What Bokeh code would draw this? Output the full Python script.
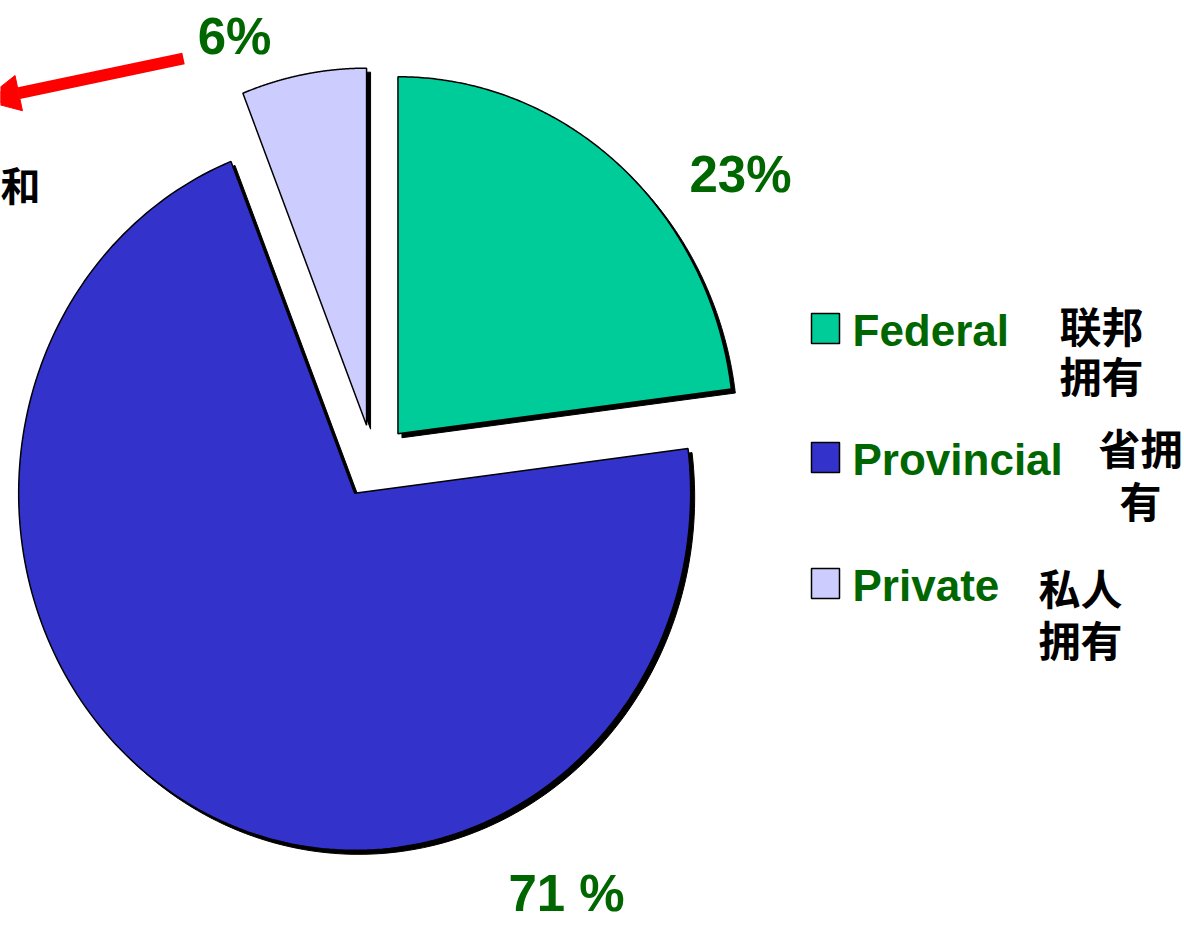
import numpy as np
from bokeh.plotting import figure
from bokeh.models import Range1d, Arrow, NormalHead
from bokeh.core.properties import value
from bokeh.embed import file_html
from bokeh.resources import INLINE

# ---------------- data ----------------
categories = ["Federal", "Provincial", "Private"]
shares = [23, 71, 6]
pct_labels = ["23%", "71 %", "6%"]
cn_line1 = ["联邦", "省拥", "私人"]
cn_line2 = ["拥有", "有", "拥有"]
colors = ["#00CC99", "#3333CC", "#CCCCFF"]

# ---------------- layout ----------------
W, H = 1184, 925
CX, CY = 373, 461          # pie centre (page pixels)
RX, RY = 336, 357          # pie radii
EXPLODE = 37
SHADOW = 4
label_pos = [(740, 174), (566, 893), (234, 36)]     # centres of % labels
legend_y = [328, 457, 583]
cn_x = [1101, 1140, 1080]
cn_y1 = [324, 446, 586]
cn_y2 = [374, 499, 638]

GREEN = "#006600"
SANS = "Liberation Sans"
CJK = "Noto Sans CJK SC"

p = figure(width=W, height=H, x_range=Range1d(0, W), y_range=Range1d(H, 0),
           output_backend="svg", toolbar_location=None, min_border=0,
           x_axis_type=None, y_axis_type=None)
p.grid.visible = False
p.outline_line_color = None
p.background_fill_color = "white"
p.border_fill_color = "white"

# ---------------- pie slices ----------------
total = float(sum(shares))
cum = np.concatenate([[0.0], np.cumsum(shares)]) / total * 2 * np.pi
xs, ys, sxs, sys_ = [], [], [], []
for i in range(len(shares)):
    a0, a1 = cum[i], cum[i + 1]
    mid = (a0 + a1) / 2
    ox = CX + EXPLODE * np.sin(mid)
    oy = CY - EXPLODE * np.cos(mid)
    t = np.linspace(a0, a1, 200)
    px = np.concatenate([[ox], ox + RX * np.sin(t)])
    py = np.concatenate([[oy], oy - RY * np.cos(t)])
    xs.append(list(px)); ys.append(list(py))
    sxs.append(list(px + SHADOW)); sys_.append(list(py + SHADOW))

p.patches(sxs, sys_, fill_color="black", line_color="black", line_width=1)
p.patches(xs, ys, fill_color=colors, line_color="black", line_width=1.5)

# ---------------- percentage labels ----------------
p.text(x=[lp[0] for lp in label_pos], y=[lp[1] for lp in label_pos], text=pct_labels,
       text_font=value(SANS), text_font_style="bold", text_font_size="51px",
       text_color=GREEN, text_align="center", text_baseline="middle")

# ---------------- legend ----------------
p.rect(x=[825] * 3, y=legend_y, width=28, height=30, fill_color=colors,
       line_color="black", line_width=1.5)
p.text(x=[852] * 3, y=[ly + 2 for ly in legend_y], text=categories,
       text_font=value(SANS), text_font_style="bold", text_font_size="44px",
       text_color=GREEN, text_align="left", text_baseline="middle")
p.text(x=cn_x, y=cn_y1, text=cn_line1, text_font=value(CJK), text_font_style="bold",
       text_font_size="42px", text_color="black", text_align="center", text_baseline="middle")
p.text(x=cn_x, y=cn_y2, text=cn_line2, text_font=value(CJK), text_font_style="bold",
       text_font_size="42px", text_color="black", text_align="center", text_baseline="middle")

# text at the left edge
p.text(x=[40], y=[183], text=["和"], text_font=value(CJK), text_font_style="bold",
       text_font_size="40px", text_color="black", text_align="right", text_baseline="middle")

# ---------------- red arrow ----------------
p.add_layout(Arrow(x_start=183, y_start=58, x_end=-17, y_end=100,
                   line_color="red", line_width=12,
                   end=NormalHead(size=36, fill_color="red", line_color="red")))

open("out.html", "w").write(file_html(p, INLINE))
